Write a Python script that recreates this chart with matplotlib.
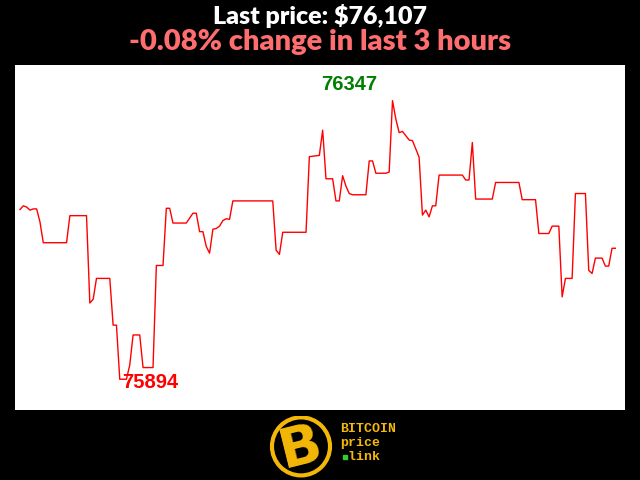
"""
Bitcoin last-3-hours price chart, black background style.
"""

### Import modules
import numpy as np
import matplotlib.pyplot as plt
from matplotlib.patches import Circle

### Data: minute offset of each vertex and price (USD)
minutes = [0, 1, 2, 3, 4, 5, 6, 7, 14, 15, 20, 21, 22, 23, 27, 28, 29, 30, 32,
           33, 34, 36, 37, 40, 41, 43, 44, 45, 46, 50, 52, 53, 54, 55, 56, 57,
           58, 59, 60, 61, 62, 63, 64, 76, 77, 78, 79, 86, 87, 90, 91, 92, 94,
           95, 96, 97, 98, 99, 100, 104, 105, 106, 107, 110, 111, 112, 113,
           114, 115, 117, 118, 120, 121, 122, 123, 124, 125, 126, 133, 134,
           135, 136, 137, 142, 143, 150, 151, 155, 156, 159, 160, 162, 163,
           164, 166, 167, 170, 171, 172, 173, 175, 176, 177, 178, 179]
prices = [76170, 76176, 76174, 76169, 76171, 76171, 76150, 76116, 76116, 76160,
          76160, 76018, 76024, 76058, 76058, 75982, 75982, 75894, 75894, 75917,
          75966, 75966, 75913, 75913, 76079, 76079, 76172, 76172, 76148, 76148,
          76164, 76164, 76134, 76134, 76110, 76099, 76138, 76139, 76143, 76152,
          76155, 76154, 76184, 76184, 76104, 76097, 76133, 76133, 76256, 76258,
          76299, 76220, 76220, 76184, 76184, 76225, 76208, 76196, 76194, 76194,
          76249, 76249, 76229, 76229, 76231, 76347, 76317, 76295, 76297, 76283,
          76282, 76255, 76161, 76169, 76158, 76176, 76176, 76226, 76226, 76218,
          76218, 76279, 76187, 76187, 76214, 76214, 76186, 76186, 76131, 76131,
          76143, 76143, 76028, 76058, 76058, 76196, 76196, 76071, 76066, 76091,
          76091, 76078, 76078, 76107, 76107]

last_price = 76107
pct_change = -0.08
hours = 3

minutes = np.array(minutes)
prices = np.array(prices)

### Figure
fig = plt.figure(figsize=(6.4, 4.8), dpi=100, facecolor='black')

ax = fig.add_axes([15/640, 70/480, 610/640, 345/480])
ax.set_facecolor('white')
ax.plot(minutes, prices, color='red', linewidth=1)
ax.set_xlim(-1.5, 181.9)
ax.set_ylim(75844, 76405)
ax.set_xticks([])
ax.set_yticks([])
for spine in ax.spines.values():
    spine.set_visible(False)

### High / low labels
imax = np.argmax(prices)
imin = np.argmin(prices)
ax.text(minutes[imax] - 13, prices[imax] + 27, str(prices[imax]),
        color='green', fontsize=14.5, fontweight='bold', family='Liberation Sans',
        ha='center', va='center')
ax.text(minutes[imin] + 9, prices[imin] - 6, str(prices[imin]),
        color='red', fontsize=14.5, fontweight='bold', family='Liberation Sans',
        ha='center', va='center')

### Titles
fig.text(0.5, 1 - 16/480, 'Last price: ${:,}'.format(last_price),
         color='white', fontsize=18, fontweight='heavy', family='Lato',
         ha='center', va='center')
fig.text(0.5, 1 - 42/480, '{:.2f}% change in last {} hours'.format(pct_change, hours),
         color='#ff6e6e', fontsize=21, fontweight='heavy', family='Lato',
         ha='center', va='center')

### Logo
gold = '#f4b808'
lg = fig.add_axes([269/640, 0, 64/640, 64/480])
lg.set_xlim(-1, 1)
lg.set_ylim(-1, 1)
lg.set_aspect('equal')
lg.axis('off')
lg.add_patch(Circle((0, 0.05), 0.95, color=gold))
lg.add_patch(Circle((0, 0.05), 0.82, color='black'))
lg.text(0.0, 0.0, 'B', color=gold, fontsize=40, fontweight='heavy',
        family='DejaVu Sans', ha='center', va='center', rotation=14)

mono = 'Liberation Mono'
fig.text(340/640, 1 - 429/480, 'BITCOIN', color=gold, fontsize=9.5,
         fontweight='bold', family=mono, ha='left', va='center')
fig.text(340/640, 1 - 443/480, 'price', color=gold, fontsize=9.5,
         fontweight='bold', family=mono, ha='left', va='center')
fig.text(340/640, 1 - 457/480, ' link', color=gold, fontsize=9.5,
         fontweight='bold', family=mono, ha='left', va='center')
fig.patches.append(plt.Rectangle((343/640, 1 - 459/480), 4/640, 4/480,
                                 color='#33cc33', transform=fig.transFigure,
                                 figure=fig))

### Save figure
plt.savefig('out.png', dpi=100, facecolor='black')
